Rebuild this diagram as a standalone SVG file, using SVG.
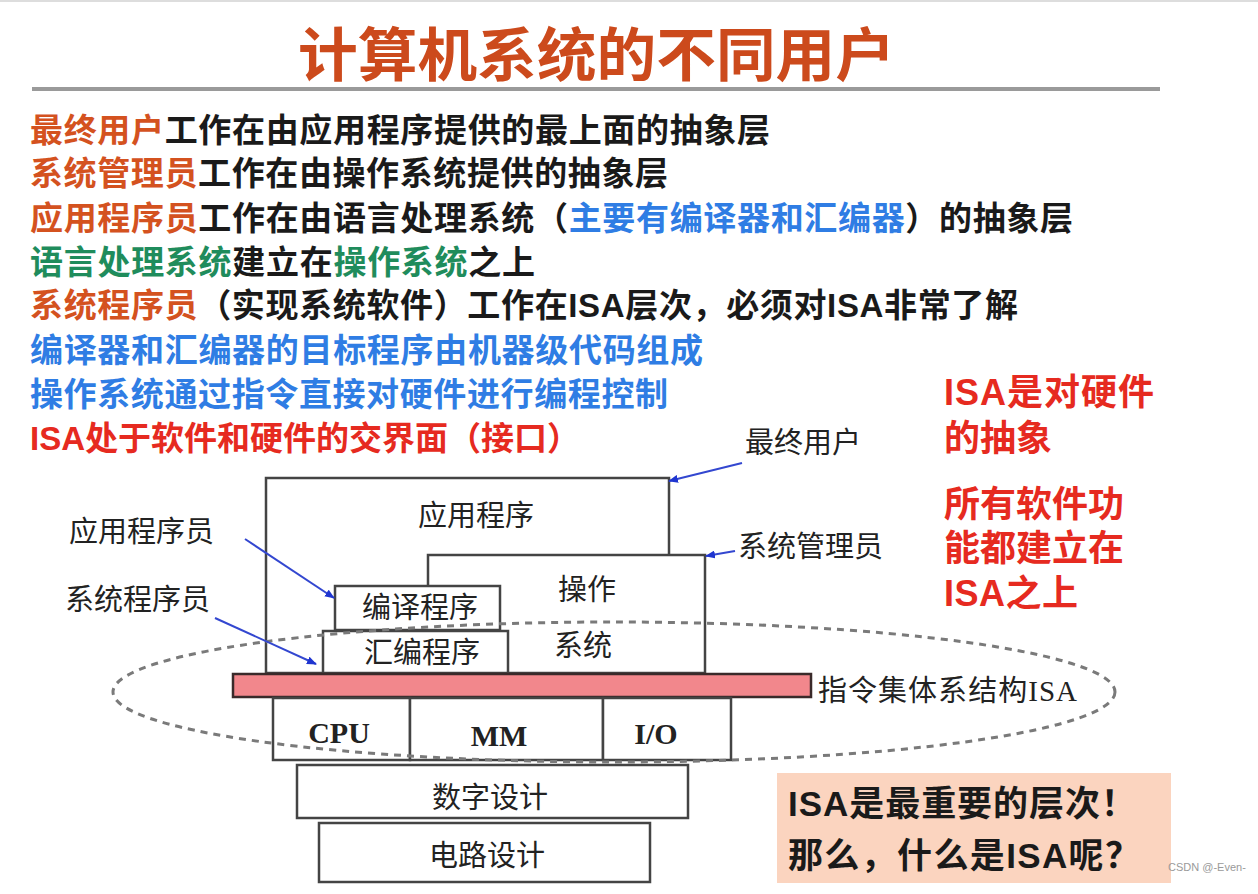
<svg xmlns="http://www.w3.org/2000/svg" width="1258" height="894" viewBox="0 0 1258 894">
  <defs>
    <style>
      .title { font-family: "Noto Sans CJK SC", "Liberation Sans", sans-serif; font-weight: bold; font-size: 58px; fill: #cc4a1c; }
      .line { font-family: "Liberation Sans", "Noto Sans CJK SC", sans-serif; font-weight: bold; font-size: 33px; fill: #1a1a1a; }
      .o { fill: #d4521f; }
      .k { fill: #1a1a1a; }
      .b { fill: #2f7de4; }
      .g { fill: #1f8c5c; }
      .r { fill: #e62a20; }
      .side { font-family: "Liberation Sans", "Noto Sans CJK SC", sans-serif; font-weight: bold; font-size: 36px; fill: #e62a20; }
      .note { font-family: "Liberation Sans", "Noto Sans CJK SC", sans-serif; font-weight: bold; font-size: 35px; fill: #1a1a1a; }
      .box { fill: #ffffff; stroke: #444444; stroke-width: 2.5; }
      .lbl { font-family: "Liberation Serif", "Noto Sans CJK SC", serif; font-size: 29px; fill: #222222; }
      .hw { font-family: "Liberation Serif", "Noto Sans CJK SC", serif; font-weight: bold; font-size: 30px; fill: #222222; }
      .arrow { stroke: #3347d0; stroke-width: 2; fill: none; marker-end: url(#ah); }
      .wm { font-family: "Liberation Sans", "Noto Sans CJK SC", sans-serif; font-size: 11px; fill: #9a9a9a; }
    </style>
    <marker id="ah" markerUnits="userSpaceOnUse" markerWidth="10" markerHeight="8" refX="9" refY="4" orient="auto">
      <path d="M0,0 L10,4 L0,8 z" fill="#1f35d0"/>
    </marker>
  </defs>

  <rect x="0" y="0" width="1258" height="894" fill="#ffffff"/>
  <line x1="0" y1="1" x2="1258" y2="1" stroke="#dddddd" stroke-width="2"/>

  <g id="title">
    <text class="title" x="298" y="76" textLength="597" lengthAdjust="spacingAndGlyphs">计算机系统的不同用户</text>
    <line x1="32" y1="89" x2="1160" y2="89" stroke="#9a9a9a" stroke-width="4"/>
  </g>

  <g id="text-lines">
    <text class="line" x="30" y="142" textLength="740" lengthAdjust="spacing"><tspan class="o">最终用户</tspan><tspan class="k">工作在由应用程序提供的最上面的抽象层</tspan></text>
    <text class="line" x="30" y="185" textLength="638" lengthAdjust="spacing"><tspan class="o">系统管理员</tspan><tspan class="k">工作在由操作系统提供的抽象层</tspan></text>
    <text class="line" x="30" y="230" textLength="1043" lengthAdjust="spacing"><tspan class="o">应用程序员</tspan><tspan class="k">工作在由语言处理系统（</tspan><tspan class="b">主要有编译器和汇编器</tspan><tspan class="k">）的抽象层</tspan></text>
    <text class="line" x="30" y="274" textLength="505" lengthAdjust="spacing"><tspan class="g">语言处理系统</tspan><tspan class="k">建立在</tspan><tspan class="g">操作系统</tspan><tspan class="k">之上</tspan></text>
    <text class="line" x="30" y="317" textLength="988" lengthAdjust="spacing"><tspan class="o">系统程序员</tspan><tspan class="k">（实现系统软件）工作在ISA层次，必须对ISA非常了解</tspan></text>
    <text class="line b" x="30" y="362" textLength="673" lengthAdjust="spacing">编译器和汇编器的目标程序由机器级代码组成</text>
    <text class="line b" x="30" y="406" textLength="638" lengthAdjust="spacing">操作系统通过指令直接对硬件进行编程控制</text>
    <text class="line r" x="30" y="450" textLength="550" lengthAdjust="spacing">ISA处于软件和硬件的交界面（接口）</text>
  </g>

  <g id="side-notes">
    <text class="side" x="944" y="405" textLength="210" lengthAdjust="spacing">ISA是对硬件</text>
    <text class="side" x="944" y="451">的抽象</text>
    <text class="side" x="944" y="517">所有软件功</text>
    <text class="side" x="944" y="561">能都建立在</text>
    <text class="side" x="944" y="606" textLength="134" lengthAdjust="spacing">ISA之上</text>
  </g>

  <g id="node-app">
    <rect class="box" x="266" y="478" width="403" height="195"/>
    <text class="lbl" x="476" y="526" text-anchor="middle">应用程序</text>
  </g>
  <g id="node-os">
    <rect class="box" x="428" y="555" width="277" height="118"/>
    <text class="lbl" x="587" y="600" text-anchor="middle">操作</text>
    <text class="lbl" x="583" y="656" text-anchor="middle">系统</text>
  </g>
  <g id="node-compiler">
    <rect class="box" x="335" y="586" width="165" height="44"/>
    <text class="lbl" x="420" y="618" text-anchor="middle">编译程序</text>
  </g>
  <g id="node-assembler">
    <rect class="box" x="323" y="631" width="185" height="42"/>
    <text class="lbl" x="422" y="663" text-anchor="middle">汇编程序</text>
  </g>
  <g id="node-isa">
    <rect x="233" y="674" width="578" height="23" fill="#f2878c" stroke="#3a2a2a" stroke-width="2.5"/>
    <text class="lbl" x="818" y="701" textLength="259" lengthAdjust="spacing">指令集体系结构ISA</text>
  </g>
  <g id="node-cpu">
    <rect class="box" x="273" y="698" width="137" height="62"/>
    <text class="hw" x="339" y="743" text-anchor="middle">CPU</text>
  </g>
  <g id="node-mm">
    <rect class="box" x="410" y="698" width="193" height="62"/>
    <text class="hw" x="499" y="746" text-anchor="middle">MM</text>
  </g>
  <g id="node-io">
    <rect class="box" x="603" y="698" width="128" height="62"/>
    <text class="hw" x="656" y="744" text-anchor="middle">I/O</text>
  </g>
  <g id="node-digital">
    <rect class="box" x="297" y="765" width="391" height="53"/>
    <text class="lbl" x="490" y="808" text-anchor="middle">数字设计</text>
  </g>
  <g id="node-circuit">
    <rect class="box" x="319" y="823" width="331" height="59"/>
    <text class="lbl" x="487" y="866" text-anchor="middle">电路设计</text>
  </g>

  <g id="isa-ellipse">
    <ellipse cx="614" cy="692" rx="501" ry="70" fill="none" stroke="#7a7a7a" stroke-width="3" stroke-dasharray="7 6"/>
  </g>

  <g id="user-labels">
    <text class="lbl" x="745" y="453">最终用户</text>
    <text class="lbl" x="738" y="557">系统管理员</text>
    <text class="lbl" x="69" y="542">应用程序员</text>
    <text class="lbl" x="65" y="610">系统程序员</text>
  </g>

  <g id="connectors">
    <line class="arrow" x1="742" y1="463" x2="669" y2="481"/>
    <line class="arrow" x1="735" y1="551" x2="706" y2="556"/>
    <line class="arrow" x1="245" y1="539" x2="334" y2="598"/>
    <line class="arrow" x1="215" y1="618" x2="316" y2="664"/>
  </g>

  <g id="summary-box">
    <rect x="777" y="773" width="394" height="110" fill="#fbd4bf"/>
    <text class="note" x="788" y="816" textLength="348" lengthAdjust="spacing">ISA是最重要的层次！</text>
    <text class="note" x="788" y="868" textLength="352" lengthAdjust="spacing">那么，什么是ISA呢？</text>
  </g>

  <text class="wm" x="1168" y="871">CSDN @-Even-</text>
</svg>
